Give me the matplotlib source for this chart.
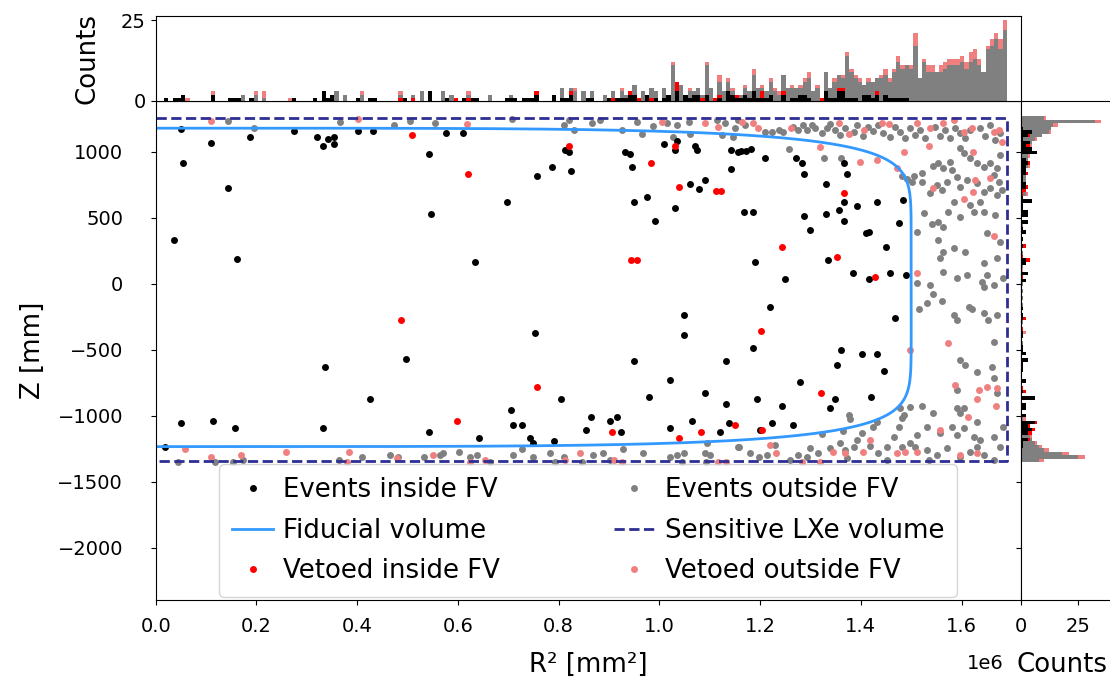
import numpy as np
import matplotlib
matplotlib.use("Agg")
import matplotlib.pyplot as plt

# events inside the fiducial volume (R^2 in 1e6 mm^2, Z in mm)
inside_pts = [
    (0.051, 1177), (0.110, 1066), (0.054, 919), (0.144, 725), (0.036, 333), (0.161, 187),
    (0.187, 1114), (0.275, 1161), (0.320, 1114), (0.332, 1048), (0.342, 1098), (0.354, 1116),
    (0.354, 1063), (0.401, 1159), (0.431, 1161), (0.543, 983), (0.547, 528),
    (0.576, 1146), (0.611, 1146), (0.697, 624), (0.633, 169), (0.757, 820), (0.787, 886),
    (0.812, 1015), (0.821, 998), (0.825, 854), (0.932, 998), (0.941, 983), (0.945, 886),
    (1.009, 1063), (1.031, 1015), (1.036, 1083), (1.070, 1048), (1.074, 1015), (1.143, 1015),
    (1.157, 998), (1.143, 869), (1.061, 755), (1.078, 722), (1.091, 788), (0.949, 624),
    (0.975, 659), (1.031, 576), (0.992, 477),
    (1.162, 1005), (1.172, 1005), (1.182, 1023), (1.210, 952), (1.271, 952), (1.283, 919),
    (1.288, 836), (1.366, 919), (1.373, 836), (1.331, 755), (1.366, 624), (1.393, 593),
    (1.433, 624), (1.484, 639), (1.168, 543), (1.185, 543), (1.288, 513), (1.331, 528),
    (1.356, 561), (1.366, 477), (1.300, 411), (1.411, 384), (1.416, 396), (1.476, 462),
    (1.450, 283), (1.189, 169), (1.335, 184), (1.250, 38), (1.385, 86), (1.416, 38),
    (1.458, 86), (1.489, 70),
    (0.050, -1055), (0.114, -1038), (0.157, -1089), (0.019, -1232), (0.337, -631),
    (0.332, -1089), (0.426, -873), (0.496, -566), (0.543, -1121),
    (0.641, -1169), (0.753, -369), (0.705, -957), (0.710, -1071), (0.727, -1071),
    (0.743, -1169), (0.749, -1202), (0.791, -1187), (0.804, -873), (0.855, -1104),
    (0.864, -1005), (0.902, -1038), (0.916, -1005), (0.923, -1121), (0.949, -581),
    (0.979, -859), (1.021, -727), (1.021, -1089), (1.048, -237), (1.048, -386),
    (1.065, -1038), (1.091, -826), (1.121, -1121), (1.133, -581), (1.133, -909),
    (1.138, -1055),
    (1.219, -174), (1.185, -485), (1.467, -255), (1.360, -500), (1.403, -530), (1.433, -530),
    (1.352, -614), (1.446, -662), (1.279, -745), (1.194, -873), (1.348, -873), (1.421, -859),
    (1.244, -924), (1.339, -939), (1.223, -1055), (1.266, -1071), (1.200, -1104),
]

vetoed_inside_pts = [
    (0.509, 1129), (0.620, 836), (0.821, 1048), (0.983, 919), (1.031, 1048), (1.039, 737),
    (1.113, 705), (1.123, 705), (0.943, 184), (0.955, 184), (1.366, 689), (1.244, 283),
    (1.352, 202), (1.429, 55), (0.487, -273), (0.598, -1038), (0.757, -778), (0.906, -1121),
    (1.039, -1169), (1.082, -1121), (1.151, -1071), (1.202, -354), (1.321, -826), (1.204, -1104),
]

outside_pts = [
    # top band
    (0.144, 1235), (0.196, 1179), (0.366, 1230), (0.474, 1204), (0.505, 1235), (0.555, 1217),
    (0.707, 1250), (0.810, 1204), (0.830, 1167), (0.820, 1242), (0.866, 1217), (0.882, 1242),
    (0.926, 1167), (0.955, 1230), (0.965, 1134), (0.988, 1199), (1.015, 1217), (1.028, 1116),
    (1.035, 1204), (1.058, 1230), (1.061, 1134), (1.114, 1242), (1.124, 1129), (1.131, 1217),
    (1.147, 1116), (1.151, 1179),
    (1.157, 1242), (1.170, 1204), (1.210, 1154), (1.223, 1154), (1.237, 1167), (1.246, 1154),
    (1.266, 1192), (1.276, 1167), (1.286, 1204), (1.293, 1167), (1.303, 1204), (1.309, 1179),
    (1.323, 1141), (1.333, 1179), (1.339, 1210), (1.349, 1167), (1.359, 1129), (1.369, 1179),
    (1.386, 1154), (1.392, 1204), (1.405, 1124), (1.415, 1192), (1.425, 1159), (1.435, 1204),
    (1.445, 1141), (1.458, 1116), (1.468, 1192), (1.478, 1149), (1.488, 1109), (1.498, 1179),
    (1.508, 1129), (1.518, 1167), (1.528, 1104), (1.548, 1192), (1.558, 1124), (1.568, 1167),
    (1.578, 1104), (1.587, 1179), (1.597, 1141), (1.607, 1104), (1.617, 1167), (1.637, 1179),
    (1.647, 1124), (1.657, 1204), (1.667, 1091), (1.677, 1141),
    # upper right
    (1.258, 1023), (1.326, 952), (1.360, 952), (1.481, 821), (1.491, 795), (1.505, 821),
    (1.521, 838), (1.521, 770), (1.501, 770), (1.544, 896), (1.554, 914), (1.564, 876),
    (1.578, 927), (1.597, 1028), (1.604, 990), (1.617, 952), (1.630, 914), (1.644, 889),
    (1.657, 914), (1.670, 876), (1.677, 977), (1.664, 826), (1.674, 770), (1.657, 725),
    (1.644, 694), (1.630, 763), (1.611, 788), (1.597, 737), (1.591, 813), (1.581, 864),
    (1.571, 775), (1.561, 712), (1.551, 750), (1.538, 687), (1.584, 624), (1.617, 598),
    (1.637, 624), (1.644, 543), (1.667, 523), (1.670, 674), (1.680, 712), (1.525, 535),
    (1.541, 452), (1.554, 472), (1.574, 548), (1.564, 434), (1.597, 510), (1.624, 548),
    (1.650, 384), (1.554, 333), (1.564, 245), (1.558, 194), (1.584, 270), (1.607, 245),
    (1.644, 157), (1.670, 194), (1.677, 321), (1.564, 94), (1.591, 43), (1.611, 68),
    (1.640, 18), (1.664, -8), (1.683, 43), (1.538, -8), (1.650, 68), (1.511, 397),
    # lower right
    (1.511, 5), (1.544, -76), (1.531, -141), (1.515, -192), (1.561, -126), (1.644, -25),
    (1.614, -172), (1.621, -192), (1.644, -222), (1.652, -273), (1.670, -235), (1.584, -235),
    (1.591, -273), (1.664, -437), (1.597, -576), (1.607, -614), (1.630, -664), (1.660, -631),
    (1.664, -715), (1.591, -803), (1.670, -823), (1.521, -924), (1.544, -975), (1.591, -937),
    (1.604, -942), (1.597, -980), (1.630, -1043), (1.477, -942), (1.485, -992), (1.482, -1018),
    (1.475, -1081), (1.425, -1081), (1.432, -1043), (1.376, -992), (1.379, -1025),
    (1.402, -1126), (1.364, -1111), (1.323, -1136), (1.531, -1081), (1.558, -1131),
    (1.581, -1081), (1.604, -1093), (1.591, -1144), (1.624, -1156), (1.637, -1182),
    (1.630, -1232), (1.664, -1156), (1.677, -1232), (1.683, -1081), (1.511, -1144),
    (1.498, -1207), (1.482, -1232), (1.465, -1156), (1.452, -1232), (1.435, -1283),
    (1.419, -1227), (1.392, -1182), (1.386, -1232), (1.369, -1257), (1.359, -1202),
    (1.339, -1245), (1.314, -1283), (1.299, -1245), (1.293, -1308), (1.276, -1295),
    (1.260, -1333), (1.230, -1220), (1.213, -1295), (1.197, -1308), (1.180, -1283),
    (1.159, -1232), (1.508, -1232), (1.531, -1257), (1.551, -1295), (1.571, -1245),
    (1.597, -1308), (1.617, -1270), (1.644, -1295), (1.664, -1333), (1.535, -1333),
    (1.452, -1333), (1.372, -1321), (1.498, -929),
    # bottom band
    (0.045, -1346), (0.118, -1346), (0.154, -1346), (0.174, -1333), (0.363, -1333),
    (0.409, -1313), (0.465, -1295), (0.482, -1308), (0.533, -1313), (0.565, -1295),
    (0.571, -1283), (0.603, -1270), (0.624, -1308), (0.638, -1295), (0.664, -1346),
    (0.710, -1295), (0.727, -1252), (0.749, -1313), (0.783, -1283), (0.793, -1346),
    (0.811, -1313), (0.846, -1346), (0.869, -1295), (0.889, -1283), (0.902, -1333),
    (0.927, -1252), (0.967, -1283), (1.021, -1308), (1.035, -1295), (1.048, -1278),
    (1.045, -1346), (1.094, -1202), (1.091, -1283), (1.101, -1295), (1.093, -1346),
    (1.157, -1232),
]

vetoed_outside_pts = [
    (0.110, 1235), (0.402, 1250), (0.618, 1210), (1.005, 1230), (1.091, 1217), (1.117, 1192),
    (1.164, 1230), (1.186, 1217), (1.195, 1184), (1.262, 1179), (1.356, 1217), (1.376, 1134),
    (1.407, 1167), (1.442, 1217), (1.455, 1210), (1.511, 1217), (1.538, 1179), (1.564, 1217),
    (1.585, 1242), (1.604, 1154), (1.621, 1179), (1.664, 1154), (1.674, 1167), (1.680, 1078),
    (1.485, 1002), (1.535, 1048), (1.622, 1002), (1.318, 1040), (1.399, 922), (1.432, 939),
    (1.472, 876), (1.544, 725), (1.627, 788), (1.656, 806), (1.622, 694), (1.604, 641),
    (1.664, 366), (1.511, 86),
    (1.574, -449), (1.587, -765), (1.634, -803), (1.650, -778), (1.670, -790), (1.630, -874),
    (1.669, -924), (1.612, -1005), (1.558, -1106), (1.498, -500), (1.220, -1220),
    (1.232, -1283), (1.344, -1270), (1.369, -1278), (1.404, -1270), (1.419, -1182),
    (1.472, -1283), (1.488, -1270), (1.511, -1270), (1.597, -1295), (1.630, -1283),
    (1.283, -1346), (1.319, -1346),
    (0.058, -1252), (0.109, -1308), (0.169, -1295), (0.259, -1270), (0.384, -1270),
    (0.379, -1346), (0.479, -1321), (0.551, -1295), (0.624, -1346), (0.654, -1333),
    (0.813, -1333), (0.843, -1278), (0.909, -1333), (0.925, -1346), (1.117, -1346),
    (1.133, -1346),
]

# top histogram of outside events (200 bins over R^2 0 .. 1.69e6)
top_gray = [
    0, 0, 0, 0, 0, 0, 0, 0, 0, 0, 0, 0, 0, 1, 0, 0, 0, 1, 0, 0,
    2, 0, 0, 2, 0, 1, 0, 0, 0, 0, 0, 0, 0, 0, 0, 0, 0, 0, 0, 0,
    0, 0, 3, 0, 2, 0, 0, 0, 2, 0, 0, 0, 0, 0, 0, 0, 0, 2, 0, 0,
    2, 0, 3, 0, 0, 0, 0, 3, 0, 2, 0, 0, 0, 2, 0, 0, 0, 0, 2, 0,
    0, 0, 0, 2, 0, 0, 0, 0, 0, 2, 0, 0, 0, 0, 0, 4, 0, 4, 3, 0,
    3, 0, 3, 0, 0, 2, 0, 3, 0, 3, 2, 0, 5, 0, 3, 0, 4, 3, 0, 4,
    0, 11, 0, 5, 0, 3, 3, 4, 2, 11, 4, 1, 6, 3, 6, 3, 2, 2, 4, 3,
    8, 4, 4, 3, 6, 3, 2, 8, 4, 4, 4, 4, 6, 7, 3, 4, 0, 9, 4, 6,
    8, 7, 14, 9, 7, 6, 5, 6, 6, 7, 7, 8, 6, 9, 12, 10, 11, 10, 17, 7,
    12, 9, 9, 9, 9, 10, 11, 11, 11, 12, 10, 12, 13, 11, 9, 16, 17, 19, 16, 22,
]
top_lightred = [
    0, 0, 0, 0, 0, 0, 0, 1, 0, 0, 0, 0, 0, 2, 0, 0, 0, 0, 0, 0,
    0, 0, 0, 1, 0, 2, 0, 0, 0, 0, 0, 1, 0, 0, 0, 0, 0, 0, 0, 0,
    0, 0, 0, 0, 0, 0, 0, 0, 1, 0, 0, 0, 0, 0, 0, 0, 0, 1, 0, 0,
    0, 0, 0, 0, 0, 0, 0, 0, 0, 0, 0, 0, 0, 1, 0, 0, 0, 0, 0, 0,
    0, 0, 0, 0, 0, 0, 0, 0, 0, 1, 0, 0, 0, 0, 0, 0, 0, 0, 1, 0,
    0, 0, 0, 0, 0, 0, 0, 0, 0, 1, 0, 0, 0, 0, 0, 0, 0, 0, 0, 0,
    0, 1, 0, 0, 0, 1, 0, 0, 0, 1, 0, 0, 2, 0, 1, 1, 0, 0, 1, 0,
    2, 0, 1, 0, 1, 1, 1, 0, 0, 1, 0, 1, 1, 2, 0, 1, 1, 0, 0, 1,
    0, 1, 1, 1, 1, 1, 0, 1, 0, 0, 1, 2, 1, 1, 2, 1, 0, 1, 4, 0,
    1, 2, 2, 0, 2, 2, 2, 2, 2, 2, 2, 3, 3, 2, 0, 1, 2, 2, 3, 3,
]

# right histogram of outside events (100 bins over Z -1350 .. 1270 mm)
right_gray = [
    8, 25, 18, 10, 8, 6, 5, 4, 3, 3,
    2, 2, 1, 1, 0, 1, 1, 0, 1, 0,
    1, 0, 0, 1, 0, 0, 1, 0, 0, 0,
    0, 1, 0, 0, 1, 0, 0, 1, 0, 0,
    1, 0, 1, 0, 0, 1, 0, 1, 0, 1,
    0, 1, 0, 1, 0, 0, 1, 0, 1, 0,
    1, 0, 1, 0, 1, 0, 1, 0, 1, 1,
    0, 1, 1, 0, 1, 1, 0, 2, 1, 1,
    1, 2, 2, 1, 2, 3, 2, 3, 3, 2,
    3, 4, 5, 6, 9, 12, 13, 14, 32, 10,
]
right_lightred = [
    2, 3, 3, 2, 1, 1, 0, 1, 0, 1,
    0, 0, 1, 0, 0, 0, 0, 0, 0, 0,
    0, 0, 0, 0, 0, 0, 0, 0, 0, 0,
    0, 0, 0, 0, 0, 0, 0, 1, 0, 0,
    0, 0, 0, 0, 0, 0, 0, 0, 0, 0,
    0, 0, 0, 0, 0, 1, 0, 0, 0, 0,
    0, 0, 0, 0, 0, 0, 0, 0, 0, 0,
    0, 0, 0, 0, 0, 0, 0, 1, 0, 0,
    1, 0, 0, 0, 0, 1, 0, 0, 1, 1,
    0, 1, 0, 1, 0, 1, 0, 2, 3, 1,
]

# fiducial volume (superellipse in R, Z) and sensitive LXe volume
fv_r2_max = 1.5e6
fv_z_center = -26.0
fv_half_height = 1206.0
fv_power = 9.0
tpc_r2 = 1.69e6
tpc_z_top = 1255.0
tpc_z_bottom = -1341.0


def split(pts):
    arr = np.array(pts, dtype=float)
    return arr[:, 0] * 1e6, arr[:, 1]


r2_in, z_in = split(inside_pts)
r2_vin, z_vin = split(vetoed_inside_pts)
r2_out, z_out = split(outside_pts)
r2_vout, z_vout = split(vetoed_outside_pts)

top_bins = np.linspace(0, 1.69e6, 201)
right_bins = np.linspace(-1350, 1270, 101)

C_GRAY = '#808080'
C_LRED = '#f08080'
C_FV = '#3399ff'
C_TPC = '#2e2e94'
BIG = 18.7

plt.rcParams['font.size'] = 14

fig = plt.figure(figsize=(11.1, 6.78), dpi=100)
W, H = 1110.0, 678.0
ax = fig.add_axes([155.7 / W, (H - 600) / H, (1021 - 155.7) / W, (600 - 101) / H])
ax_top = fig.add_axes([155.7 / W, (H - 101) / H, (1021 - 155.7) / W, (101 - 16) / H])
ax_right = fig.add_axes([1021 / W, (H - 600) / H, 108 / W, (600 - 101) / H])

ms = 5
h_out, = ax.plot(r2_out, z_out, 'o', color=C_GRAY, ms=ms, mew=0, ls='none', label='Events outside FV')
h_vout, = ax.plot(r2_vout, z_vout, 'o', color=C_LRED, ms=ms, mew=0, ls='none', label='Vetoed outside FV')
h_in, = ax.plot(r2_in, z_in, 'o', color='black', ms=ms, mew=0, ls='none', label='Events inside FV')
h_vin, = ax.plot(r2_vin, z_vin, 'o', color='red', ms=ms, mew=0, ls='none', label='Vetoed inside FV')

t = np.linspace(-np.pi / 2, np.pi / 2, 1441)
fv_r = np.sqrt(fv_r2_max) * np.abs(np.cos(t)) ** (2 / fv_power)
fv_z = fv_z_center + fv_half_height * np.sign(np.sin(t)) * np.abs(np.sin(t)) ** (2 / fv_power)
h_fv, = ax.plot(fv_r ** 2, fv_z, color=C_FV, lw=2, label='Fiducial volume')
h_tpc, = ax.plot([0, tpc_r2, tpc_r2, 0], [tpc_z_top, tpc_z_top, tpc_z_bottom, tpc_z_bottom],
                 color=C_TPC, lw=2, ls='--', label='Sensitive LXe volume')

ax.set_xlim(0, 1.718e6)
ax.set_ylim(-2394, 1386)
ax.tick_params(axis='y', pad=20)
ax.tick_params(axis='x', pad=9)
ax.set_xlabel('R² [mm²]', fontsize=BIG)
ax.set_ylabel('Z [mm]', fontsize=BIG)
ax.xaxis.set_label_coords(0.5, -0.105)
ax.yaxis.set_label_coords(-0.127, 0.5)
# scale factor of the R² axis, placed like the reference
ax.xaxis.get_offset_text().set_visible(False)
ax.text(0.98, -0.127, '1e6', transform=ax.transAxes, ha='right', va='center')
ax.legend(handles=[h_in, h_fv, h_vin, h_out, h_tpc, h_vout], loc='lower center',
          ncol=2, fontsize=BIG, numpoints=1, borderaxespad=0.1, borderpad=0.5,
          handlelength=1.55, handletextpad=0.4, columnspacing=4.4, labelspacing=0.56)

# top histogram
bw = top_bins[1] - top_bins[0]
ax_top.bar(top_bins[:-1], top_gray, width=bw, align='edge', color=C_GRAY, lw=0)
ax_top.bar(top_bins[:-1], top_lightred, bottom=top_gray, width=bw, align='edge', color=C_LRED, lw=0)
ax_top.hist([r2_in, r2_vin], bins=top_bins, stacked=True, color=['black', 'red'])
ax_top.set_xlim(ax.get_xlim())
ax_top.set_ylim(0, 26.25)
ax_top.set_yticks([0, 25])
ax_top.set_ylabel('Counts', fontsize=BIG)
ax_top.yaxis.set_label_coords(-0.064, 0.5)
ax_top.tick_params(axis='x', bottom=False, labelbottom=False)

# right histogram
bh = right_bins[1] - right_bins[0]
ax_right.barh(right_bins[:-1], right_gray, height=bh, align='edge', color=C_GRAY, lw=0)
ax_right.barh(right_bins[:-1], right_lightred, left=right_gray, height=bh, align='edge', color=C_LRED, lw=0)
ax_right.hist([z_in, z_vin], bins=right_bins, stacked=True, color=['black', 'red'], orientation='horizontal')
ax_right.set_ylim(ax.get_ylim())
ax_right.set_xlim(0, 47)
ax_right.set_xticks([0, 25])
ax_right.tick_params(axis='x', pad=9)
ax_right.set_xlabel('Counts', fontsize=BIG)
ax_right.xaxis.set_label_coords(0.38, -0.105)
ax_right.tick_params(axis='y', labelleft=False)

fig.savefig('out.png', dpi=100)
